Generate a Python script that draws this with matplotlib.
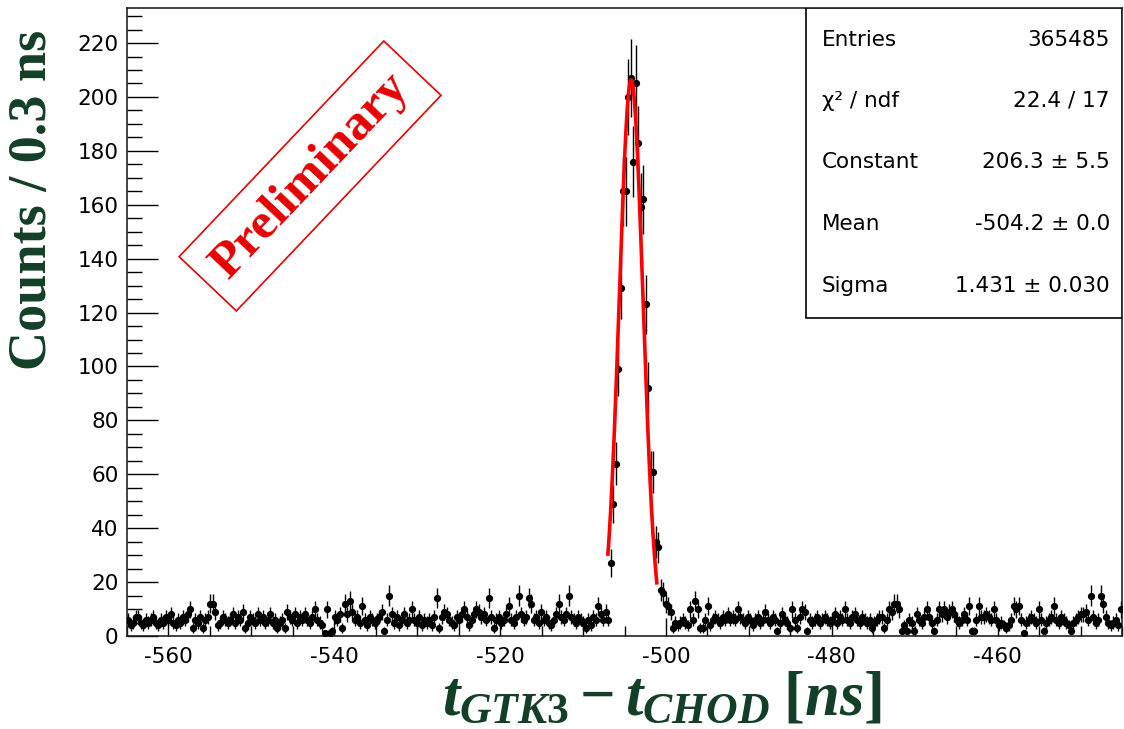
import matplotlib
matplotlib.use('Agg')
import matplotlib.pyplot as plt
import numpy as np
from matplotlib.patches import Rectangle
from matplotlib.ticker import MultipleLocator


plt.rcParams['font.family'] = ['DejaVu Sans']
plt.rcParams['axes.unicode_minus'] = False
plt.rcParams['mathtext.fontset'] = 'custom'
plt.rcParams['mathtext.it'] = 'Liberation Serif:bold:italic'
plt.rcParams['mathtext.rm'] = 'Liberation Serif:bold'
plt.rcParams['mathtext.bf'] = 'Liberation Serif:bold'


BIN_WIDTH = 0.3
X_MIN = -565.0
X_MAX = -445.0

# counts per 0.3 ns bin (left side band, peak, right side band)
COUNTS_LEFT = [
    6, 4, 5, 7, 7, 5, 4, 6, 5, 6, 7, 5, 4, 6, 5, 7, 6, 8, 5, 4,
    6, 5, 7, 6, 8, 10, 3, 6, 5, 7, 3, 6, 7, 12, 12, 9, 4, 5, 7, 6,
    5, 6, 8, 5, 7, 6, 9, 3, 5, 7, 6, 5, 8, 6, 7, 5, 6, 8, 5, 6,
    3, 5, 6, 3, 9, 7, 6, 8, 5, 7, 6, 8, 6, 5, 7, 10, 6, 5, 4, 1,
    10, 1, 2, 7, 6, 8, 3, 12, 8, 13, 9, 6, 7, 5, 11, 6, 4, 7, 6, 5,
    6, 7, 9, 2, 6, 15, 8, 5, 7, 4, 6, 8, 5, 6, 10, 6, 5, 7, 4, 6,
    5, 6, 4, 7, 14, 3, 7, 9, 8, 6, 5, 4, 7, 6, 8, 10, 7, 4, 6, 8,
    10, 9, 7, 8, 6, 14, 7, 3, 6, 7, 5, 6, 8, 11, 6, 5, 7, 15, 8, 6,
    7, 14, 12, 6, 7, 5, 9, 6, 7, 5, 4, 6, 8, 12, 7, 6, 8, 15, 7, 6,
    5, 7, 6, 5, 3, 6, 4, 7, 6, 11, 8, 6, 9, 6,
]
COUNTS_PEAK = [
    27, 49, 64, 99, 129, 165, 165, 200, 207, 176, 205,
    183, 159, 162, 123, 92, 61, 61, 35, 33, 17, 16,
]
COUNTS_RIGHT = [
    12, 11, 9, 3, 5, 4, 5, 6, 5, 4, 10, 6, 13, 10, 3, 3, 6, 11, 4, 6,
    7, 6, 5, 7, 6, 8, 6, 7, 6, 10, 7, 6, 5, 7, 6, 4, 6, 7, 5, 6,
    9, 6, 5, 7, 6, 2, 5, 8, 6, 5, 3, 10, 6, 3, 7, 10, 9, 2, 6, 5,
    6, 7, 5, 6, 7, 6, 5, 6, 8, 5, 7, 6, 10, 6, 5, 7, 8, 6, 5, 7,
    6, 5, 6, 3, 5, 6, 7, 7, 3, 6, 10, 9, 12, 12, 10, 2, 4, 2, 6, 5,
    2, 8, 6, 5, 7, 10, 7, 5, 2, 6, 10, 8, 10, 7, 9, 10, 8, 6, 5, 6,
    8, 6, 11, 2, 2, 6, 11, 7, 7, 8, 7, 6, 10, 6, 4, 5, 4, 3, 4, 6,
    11, 10, 11, 6, 1, 5, 6, 7, 6, 5, 10, 6, 2, 5, 6, 7, 11, 6, 5, 7,
    6, 5, 4, 2, 5, 6, 7, 8, 8, 9, 6, 15, 7, 5, 6, 15, 12, 7, 5, 4,
    5, 6, 4, 10,
]

# gaussian fit shown in the stats box
FIT_CONSTANT = 206.3
FIT_MEAN = -504.2
FIT_SIGMA = 1.431
FIT_RANGE = (-507.0, -501.1)

STATS_NAMES = ['Entries', 'χ² / ndf', 'Constant', 'Mean', 'Sigma']
STATS_VALUES = ['365485', '22.4 / 17', '206.3 ± 5.5', '-504.2 ± 0.0', '1.431 ± 0.030']

LABEL_GREEN = '#123f25'


counts = np.array(COUNTS_LEFT + COUNTS_PEAK + COUNTS_RIGHT, dtype=float)
centers = X_MIN + BIN_WIDTH * (np.arange(len(counts)) + 0.5)

fig = plt.figure(figsize=(11.24, 7.29), dpi=100)
ax = fig.add_axes([127 / 1124, 1 - 636 / 729, 995 / 1124, 628 / 729])

ax.errorbar(centers, counts, yerr=np.sqrt(counts), xerr=BIN_WIDTH / 2,
            fmt='o', ms=4.2, color='black', ecolor='black',
            elinewidth=1.0, capsize=0, zorder=3)

fit_x = np.linspace(FIT_RANGE[0], FIT_RANGE[1], 200)
fit_y = FIT_CONSTANT * np.exp(-0.5 * ((fit_x - FIT_MEAN) / FIT_SIGMA) ** 2)
ax.plot(fit_x, fit_y, color='#ff0000', lw=2.6, zorder=4)

ax.set_xlim(X_MIN, X_MAX)
ax.set_ylim(0, 233)
ax.xaxis.set_major_locator(MultipleLocator(20))
ax.xaxis.set_minor_locator(MultipleLocator(5))
ax.yaxis.set_major_locator(MultipleLocator(20))
ax.yaxis.set_minor_locator(MultipleLocator(5))
ax.tick_params(which='both', direction='in', top=False, right=False,
               labelsize=15.5, width=1.0, color='black')
ax.tick_params(axis='y', which='major', length=22, pad=6)
ax.tick_params(axis='y', which='minor', length=11)
ax.tick_params(axis='x', which='major', length=13, pad=8)
ax.tick_params(axis='x', which='minor', length=7)
for spine in ax.spines.values():
    spine.set_linewidth(1.2)
    spine.set_color('#222222')

# stats box
ax.add_patch(Rectangle((0.6824, 0.5064), 0.3176, 0.4936, transform=ax.transAxes,
                       facecolor='white', edgecolor='black', lw=1.2, zorder=5))
row_y = [0.949, 0.852, 0.755, 0.656, 0.557]
for name, value, y in zip(STATS_NAMES, STATS_VALUES, row_y):
    ax.text(0.6985, y, name, transform=ax.transAxes, fontsize=15.5,
            ha='left', va='center', zorder=6)
    ax.text(0.9879, y, value, transform=ax.transAxes, fontsize=15.5,
            ha='right', va='center', zorder=6)

# preliminary stamp
ax.text(0.184, 0.7325, 'Preliminary', transform=ax.transAxes,
        family='Liberation Serif', fontweight='bold', fontsize=37,
        color='#e60000', rotation=46.5, rotation_mode='anchor',
        ha='center', va='center', zorder=5,
        bbox=dict(boxstyle='square,pad=0.32', facecolor='white',
                  edgecolor='#e60000', lw=1.2))

fig.text(33 / 1124, 1 - 200 / 729, 'Counts / 0.3 ns', rotation=90,
         family='Liberation Serif', fontweight='bold', fontsize=39,
         color=LABEL_GREEN, ha='center', va='center')
fig.text(662 / 1124, 1 - 698 / 729, r'$t_{GTK3}-t_{CHOD}\;[ns]$',
         fontsize=45, color=LABEL_GREEN, ha='center', va='center')

fig.savefig('out.png', dpi=100)
